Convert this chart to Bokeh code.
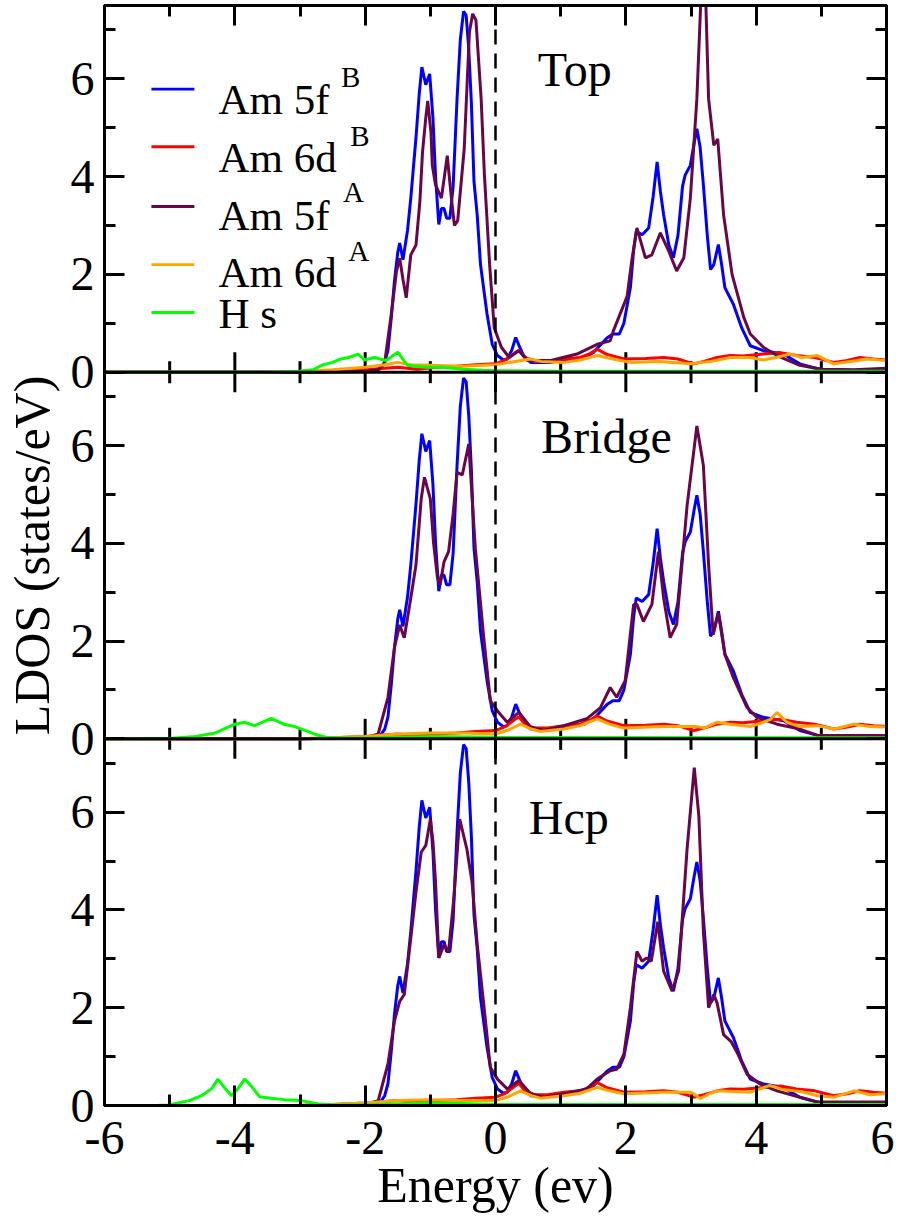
import math
from bokeh.plotting import figure
from bokeh.models import (Range1d, LinearAxis, FixedTicker, Span, Label,
                          BoxAnnotation, CustomJSTickFormatter)
from bokeh.embed import file_html
from bokeh.resources import INLINE

# ---------------- data ----------------
# Am 5f of atom B (identical in all three panels)
e_5fB = [-6.0, -3.0, -2.0, -1.85, -1.76, -1.70, -1.65, -1.60, -1.55, -1.50, -1.47, -1.42,
         -1.35, -1.30, -1.22, -1.17, -1.13, -1.07, -1.01, -0.96, -0.92, -0.87, -0.83,
         -0.79, -0.75, -0.70, -0.65, -0.59, -0.54, -0.49, -0.45, -0.41, -0.37, -0.33,
         -0.28, -0.23, -0.13, -0.05, 0.03, 0.12, 0.18, 0.25, 0.31, 0.36, 0.43, 0.54,
         0.64, 0.85, 1.05, 1.36, 1.50, 1.71, 1.80, 1.90, 1.97, 2.07, 2.12, 2.16, 2.25,
         2.35, 2.42, 2.48, 2.53, 2.58, 2.66, 2.73, 2.80, 2.87, 2.91, 2.99, 3.05, 3.09,
         3.14, 3.19, 3.25, 3.30, 3.35, 3.42, 3.47, 3.52, 3.65, 3.78, 3.91, 4.11, 4.42,
         4.67, 5.0, 5.5, 6.0]
dos_5fB = [0.0, 0.0, 0.02, 0.04, 0.08, 0.2, 0.45, 1.1, 1.87, 2.45, 2.64, 2.3,
           2.9, 3.56, 4.8, 5.7, 6.24, 5.88, 6.1, 5.2, 4.0, 3.02, 3.35,
           3.35, 3.15, 3.15, 3.8, 5.59, 6.8, 7.38, 7.3, 6.6, 5.5, 3.9,
           3.2, 2.2, 1.19, 0.57, 0.34, 0.25, 0.27, 0.45, 0.71, 0.55, 0.34, 0.2,
           0.2, 0.2, 0.25, 0.3, 0.4, 0.7, 0.78, 0.78, 1.0, 1.73, 2.5, 2.88, 2.81,
           2.95, 3.6, 4.3, 3.7, 3.22, 2.6, 2.34, 2.8, 3.8, 4.03, 4.23, 4.7, 4.98,
           4.6, 3.83, 2.8, 2.1, 2.2, 2.61, 2.2, 1.73, 1.39, 0.9, 0.54, 0.44, 0.37,
           0.17, 0.05, 0.04, 0.04]

# Am 6d of atom B (identical in all three panels)
e_6dB = [-6.0, -3.0, -2.5, -2.0, -1.5, -1.2, -0.9, -0.6, -0.3, 0.0, 0.15, 0.30, 0.36,
         0.45, 0.60, 0.80, 1.05, 1.30, 1.45, 1.56, 1.70, 1.97, 2.30, 2.58, 2.80, 3.04,
         3.20, 3.40, 3.60, 3.80, 4.11, 4.37, 4.62, 4.90, 5.19, 5.40, 5.59, 5.80, 6.0]
dos_6dB = [0.0, 0.0, 0.02, 0.05, 0.1, 0.06, 0.1, 0.12, 0.15, 0.17, 0.25, 0.4, 0.45,
           0.3, 0.22, 0.22, 0.27, 0.3, 0.38, 0.47, 0.37, 0.27, 0.28, 0.3, 0.27, 0.17,
           0.22, 0.3, 0.34, 0.33, 0.37, 0.4, 0.34, 0.3, 0.2, 0.24, 0.3, 0.27, 0.25]

# Am 5f of atom A
e_5fA_top = [-6.0, -3.0, -2.0, -1.80, -1.70, -1.60, -1.52, -1.47, -1.42, -1.37, -1.30,
             -1.22, -1.16, -1.12, -1.07, -1.04, -0.99, -0.97, -0.92, -0.83, -0.74, -0.68,
             -0.63, -0.58, -0.48, -0.40, -0.35, -0.30, -0.22, -0.17, -0.09, -0.02, 0.09,
             0.21, 0.36, 0.49, 0.85, 1.25, 1.36, 1.56, 1.76, 1.81, 2.02, 2.09, 2.17, 2.30,
             2.40, 2.53, 2.66, 2.78, 2.89, 2.99, 3.09, 3.16, 3.22, 3.27, 3.35, 3.41, 3.50,
             3.63, 3.81, 3.91, 4.11, 4.32, 4.67, 5.0, 5.5, 6.0]
dos_5fA_top = [0.0, 0.0, 0.02, 0.05, 0.2, 1.18, 2.06, 2.33, 1.9, 1.52, 2.4,
               2.6, 3.5, 4.5, 5.2, 5.55, 4.9, 4.23, 3.83, 3.56, 4.43, 3.6,
               3.0, 3.1, 4.57, 6.96, 7.33, 7.2, 5.59, 4.03, 2.2, 0.91, 0.51,
               0.3, 0.44, 0.24, 0.24, 0.37, 0.44, 0.57, 0.64, 0.85, 1.55, 2.27, 2.95, 2.34,
               2.4, 2.85, 2.47, 2.07, 2.34, 3.56, 5.59, 7.9, 7.9, 5.59, 4.64, 4.77, 3.22,
               2.0, 1.12, 0.78, 0.51, 0.34, 0.14, 0.06, 0.05, 0.08]

e_5fA_bridge = [-6.0, -3.0, -2.0, -1.80, -1.65, -1.55, -1.47, -1.40, -1.30, -1.22, -1.14,
                -1.09, -1.00, -0.95, -0.89, -0.85, -0.79, -0.72, -0.65, -0.59, -0.51, -0.41,
                -0.31, -0.18, -0.08, 0.03, 0.18, 0.36, 0.54, 0.74, 1.05, 1.40, 1.61, 1.76,
                1.86, 1.99, 2.12, 2.17, 2.27, 2.40, 2.50, 2.58, 2.68, 2.78, 2.94, 3.09, 3.19,
                3.27, 3.34, 3.42, 3.52, 3.65, 3.86, 4.01, 4.32, 4.67, 4.94, 6.0]
dos_5fA_bridge = [0.0, 0.0, 0.02, 0.1, 0.85, 1.87, 2.33, 2.07, 2.88, 3.56, 4.91,
                  5.35, 4.91, 4.0, 3.29, 3.15, 3.62, 3.83, 4.6, 5.45, 5.4, 6.03,
                  3.9, 2.07, 0.78, 0.57, 0.34, 0.54, 0.24, 0.17, 0.27, 0.41, 0.64, 1.05,
                  0.85, 1.19, 2.75, 2.75, 2.4, 2.75, 3.83, 2.88, 2.07, 2.34, 4.77, 6.4, 5.59,
                  3.56, 2.13, 2.57, 1.73, 1.25, 0.64, 0.44, 0.3, 0.2, 0.07, 0.07]

e_5fA_hcp = [-6.0, -3.0, -2.0, -1.80, -1.65, -1.55, -1.47, -1.40, -1.30, -1.22, -1.14,
             -1.07, -1.00, -0.96, -0.92, -0.87, -0.79, -0.72, -0.64, -0.55, -0.44, -0.36,
             -0.28, -0.18, -0.08, 0.03, 0.18, 0.36, 0.54, 0.74, 1.05, 1.40, 1.56, 1.76,
             1.86, 1.97, 2.07, 2.17, 2.25, 2.32, 2.39, 2.49, 2.58, 2.71, 2.81, 2.94, 3.05,
             3.12, 3.19, 3.27, 3.35, 3.40, 3.50, 3.62, 3.72, 3.86, 4.06, 4.32, 4.67, 4.94,
             6.0]
dos_5fA_hcp = [0.0, 0.0, 0.02, 0.1, 0.85, 1.73, 2.13, 2.27, 3.42, 4.37, 5.18,
               5.32, 5.85, 5.4, 4.57, 3.02, 3.29, 3.15, 4.23, 5.86, 5.25, 4.57,
               3.29, 2.07, 0.78, 0.54, 0.34, 0.51, 0.24, 0.17, 0.24, 0.34, 0.54, 0.71,
               0.74, 1.05, 2.0, 3.15, 2.95, 3.02, 2.95, 3.76, 2.75, 2.34, 2.75, 5.25, 6.91,
               5.93, 3.56, 2.0, 2.27, 2.1, 1.45, 1.3, 1.05, 0.64, 0.44, 0.3, 0.17, 0.07,
               0.07]

# Am 6d of atom A
e_6dA_top = [-6.0, -3.5, -3.0, -2.5, -2.0, -1.7, -1.5, -1.3, -1.0, -0.5, 0.0, 0.3, 0.54,
             0.7, 1.05, 1.3, 1.56, 1.8, 2.07, 2.5, 2.99, 3.3, 3.6, 3.9, 4.11, 4.3, 4.52,
             4.7, 4.94, 5.19, 5.45, 5.7, 6.0]
dos_6dA_top = [0.0, 0.0, 0.02, 0.05, 0.1, 0.15, 0.2, 0.15, 0.14, 0.12, 0.15, 0.22, 0.27,
               0.22, 0.2, 0.25, 0.34, 0.27, 0.2, 0.22, 0.17, 0.22, 0.3, 0.3, 0.25, 0.3, 0.37,
               0.3, 0.34, 0.17, 0.22, 0.27, 0.24]

e_6dA_bridge = [-6.0, -3.0, -2.5, -2.0, -1.5, -1.0, -0.5, 0.0, 0.2, 0.38, 0.55, 0.69, 1.05,
                1.3, 1.56, 1.75, 1.97, 2.58, 3.09, 3.2, 3.4, 3.6, 3.91, 4.11, 4.22, 4.32,
                4.47, 4.67, 4.94, 5.2, 5.5, 5.75, 6.0]
dos_6dA_bridge = [0.0, 0.0, 0.02, 0.05, 0.1, 0.12, 0.12, 0.1, 0.18, 0.3, 0.2, 0.15, 0.2,
                  0.27, 0.41, 0.3, 0.22, 0.25, 0.25, 0.22, 0.34, 0.3, 0.25, 0.34, 0.4, 0.54,
                  0.34, 0.25, 0.27, 0.2, 0.3, 0.25, 0.24]

e_6dA_hcp = [-6.0, -3.0, -2.5, -2.0, -1.5, -1.0, -0.5, 0.0, 0.2, 0.38, 0.55, 0.69, 1.05,
             1.3, 1.56, 1.75, 1.97, 2.58, 3.0, 3.04, 3.14, 3.3, 3.4, 3.91, 4.21, 4.4, 4.7,
             4.94, 5.2, 5.5, 5.75, 5.96, 6.0]
dos_6dA_hcp = [0.0, 0.0, 0.02, 0.05, 0.1, 0.12, 0.1, 0.1, 0.18, 0.3, 0.2, 0.15, 0.2,
               0.25, 0.37, 0.3, 0.24, 0.27, 0.27, 0.24, 0.14, 0.25, 0.3, 0.27, 0.41, 0.33,
               0.28, 0.2, 0.17, 0.3, 0.22, 0.24, 0.24]

# H s
e_Hs_top = [-6.0, -3.5, -3.0, -2.8, -2.65, -2.5, -2.37, -2.25, -2.11, -2.01, -1.86, -1.68,
            -1.50, -1.35, -1.09, -0.8, -0.5, -0.2, 0.0, 1.0, 6.0]
dos_Hs_top = [0.0, 0.0, 0.02, 0.05, 0.15, 0.2, 0.27, 0.3, 0.37, 0.25, 0.3, 0.24,
              0.41, 0.14, 0.1, 0.1, 0.06, 0.04, 0.03, 0.02, 0.02]

e_Hs_bridge = [-6.0, -5.2, -4.97, -4.6, -4.3, -4.0, -3.85, -3.7, -3.44, -3.25, -3.08, -2.78,
               -2.57, -2.0, -1.5, -1.0, 0.0, 6.0]
dos_Hs_bridge = [0.0, 0.0, 0.01, 0.05, 0.12, 0.3, 0.34, 0.27, 0.42, 0.3, 0.25, 0.1,
                 0.02, 0.01, 0.03, 0.05, 0.03, 0.02]

e_Hs_hcp = [-6.0, -5.2, -5.02, -4.7, -4.51, -4.35, -4.26, -4.15, -4.05, -3.95, -3.85, -3.75,
            -3.62, -3.45, -3.24, -2.98, -2.72, -2.5, -2.0, -1.5, -1.0, -0.5, 0.0, 6.0]
dos_Hs_hcp = [0.0, 0.0, 0.01, 0.1, 0.2, 0.35, 0.54, 0.35, 0.2, 0.35, 0.54, 0.4,
              0.18, 0.15, 0.12, 0.1, 0.03, 0.01, 0.01, 0.03, 0.05, 0.04, 0.02, 0.02]

# ticks and labels
x_major = [-6, -4, -2, 0, 2, 4, 6]
x_minor = [-5, -3, -1, 1, 3, 5]
x_tick_labels = ["-6", "-4", "-2", "0", "2", "4", "6"]
y_major = [0, 2, 4, 6]
y_minor = [1, 3, 5, 7]
y_tick_labels = ["0", "2", "4", "6"]

panel_names = ["Top", "Bridge", "Hcp"]
legend_names = ["Am 5f", "Am 6d", "Am 5f", "Am 6d", "H s"]
legend_sups = ["B", "B", "A", "A", ""]

# ---------------- styling / layout ----------------
SERIF = "Liberation Serif"
C_5FB, C_6DB, C_5FA, C_6DA, C_HS = "#0000ff", "#ff0000", "#670748", "#ffa500", "#00ff00"
LEG_COLORS = [C_5FB, C_6DB, C_5FA, C_6DA, C_HS]

YMAX = 7.5          # each panel shows 0 .. 7.5
NPAN = 3
LEFT, RIGHT, TOP, BOTTOM = 103, 8, 5, 100
FRAME_W, FRAME_H = 783, 1110

p = figure(width=LEFT + FRAME_W + RIGHT, height=TOP + FRAME_H + BOTTOM,
           x_range=Range1d(-6, 6), y_range=Range1d(0, NPAN * YMAX),
           x_axis_location=None, y_axis_location=None,
           output_backend="svg", toolbar_location=None,
           min_border_left=LEFT, min_border_right=RIGHT,
           min_border_top=TOP, min_border_bottom=BOTTOM)
p.outline_line_color = "black"
p.outline_line_width = 3
p.grid.visible = False
p.background_fill_color = "white"
p.border_fill_color = "white"

# one y range per panel: panel k (0 = bottom) occupies [k*YMAX, (k+1)*YMAX] of the frame
range_names = ["top", "bridge", "hcp"]
for idx, rn in enumerate(range_names):
    k = NPAN - 1 - idx
    p.extra_y_ranges[rn] = Range1d(-k * YMAX, (NPAN - k) * YMAX)

offsets = [k * YMAX for k in range(NPAN)]
y_major_all = [o + v for o in offsets for v in y_major]
y_minor_all = [o + v for o in offsets for v in y_minor]
y_overrides = {o + v: lab for o in offsets for v, lab in zip(y_major, y_tick_labels)}


def make_axis(major, minor, overrides=None):
    ax = LinearAxis(ticker=FixedTicker(ticks=major, minor_ticks=minor))
    ax.major_tick_in = 20
    ax.major_tick_out = 0
    ax.minor_tick_in = 11
    ax.minor_tick_out = 0
    ax.major_tick_line_width = 3
    ax.minor_tick_line_width = 3
    ax.major_tick_line_color = "black"
    ax.minor_tick_line_color = "black"
    ax.axis_line_width = 3
    ax.axis_line_color = "black"
    ax.major_label_text_font = SERIF
    ax.major_label_text_color = "black"
    ax.axis_label_text_font = SERIF
    ax.axis_label_text_font_size = "50px"
    ax.axis_label_text_font_style = "normal"
    ax.axis_label_text_color = "black"
    if overrides is not None:
        ax.major_label_overrides = overrides
        ax.major_label_text_font_size = "48px"
    else:
        ax.formatter = CustomJSTickFormatter(code="return ''")
        ax.major_label_text_font_size = "0px"
        ax.major_label_standoff = 0
    return ax


bottom_ax = make_axis(x_major, x_minor, dict(zip(x_major, x_tick_labels)))
bottom_ax.major_label_standoff = 16
bottom_ax.axis_label = "Energy (ev)"
bottom_ax.axis_label_standoff = 0
p.add_layout(bottom_ax, "below")
p.add_layout(make_axis(x_major, x_minor), "above")

left_ax = make_axis(y_major_all, y_minor_all, y_overrides)
left_ax.major_label_standoff = 10
left_ax.axis_label = "LDOS (states/eV)"
left_ax.axis_label_standoff = 8
p.add_layout(left_ax, "left")
p.add_layout(make_axis(y_major_all, y_minor_all), "right")

# boundaries between panels, with ticks crossing them (like the original)
for k in range(1, NPAN):
    p.add_layout(Span(location=k * YMAX, dimension="width", line_color="black",
                      line_width=3))
    p.scatter(x=x_major, y=[k * YMAX] * len(x_major), marker="dash", size=40,
              angle=math.pi / 2, line_color="black", line_width=3)
    p.scatter(x=x_minor, y=[k * YMAX] * len(x_minor), marker="dash", size=22,
              angle=math.pi / 2, line_color="black", line_width=3)

# Fermi level
p.add_layout(Span(location=0, dimension="height", line_color="black",
                  line_width=2.5, line_dash="15 9"))

panels = [
    ("top", e_5fA_top, dos_5fA_top, e_6dA_top, dos_6dA_top, e_Hs_top, dos_Hs_top, 0.65, 6.20),
    ("bridge", e_5fA_bridge, dos_5fA_bridge, e_6dA_bridge, dos_6dA_bridge,
     e_Hs_bridge, dos_Hs_bridge, 0.70, 6.18),
    ("hcp", e_5fA_hcp, dos_5fA_hcp, e_6dA_hcp, dos_6dA_hcp, e_Hs_hcp, dos_Hs_hcp, 0.51, 5.90),
]
for (rn, e5a, d5a, e6a, d6a, eh, dh, nx, ny), name in zip(panels, panel_names):
    p.line(e_5fB, dos_5fB, line_color=C_5FB, line_width=3, y_range_name=rn)
    p.line(e_6dB, dos_6dB, line_color=C_6DB, line_width=3, y_range_name=rn)
    p.line(e5a, d5a, line_color=C_5FA, line_width=3, y_range_name=rn)
    p.line(e6a, d6a, line_color=C_6DA, line_width=3, y_range_name=rn)
    p.line(eh, dh, line_color=C_HS, line_width=3, y_range_name=rn)
    p.add_layout(Label(x=nx, y=ny, y_range_name=rn, text=name, text_font=SERIF,
                       text_font_size="48px", text_color="black",
                       text_baseline="alphabetic"))

# legend (top panel), hand-placed like the original
sample_y = [5.79, 4.61, 3.39, 2.20, 1.22]
text_y = [5.58, 4.40, 3.21, 2.03, 1.21]
sup_x = [-2.37, -2.23, -2.34, -2.26]
sup_y = [6.03, 4.83, 3.68, 2.47]
for i, (nm, sup, col) in enumerate(zip(legend_names, legend_sups, LEG_COLORS)):
    p.add_layout(BoxAnnotation(left=-5.28, right=-4.62, y_range_name="top",
                               bottom=sample_y[i] - 0.03, top=sample_y[i] + 0.03,
                               fill_color=col, fill_alpha=1.0, line_color=None))
    p.add_layout(Label(x=-4.25, y=text_y[i], y_range_name="top", text=nm,
                       text_font=SERIF, text_font_size="43px", text_color="black",
                       text_baseline="alphabetic"))
    if sup:
        p.add_layout(Label(x=sup_x[i], y=sup_y[i], y_range_name="top", text=sup,
                           text_font=SERIF, text_font_size="29px", text_color="black",
                           text_baseline="alphabetic"))

open("out.html", "w").write(file_html(p, INLINE))
